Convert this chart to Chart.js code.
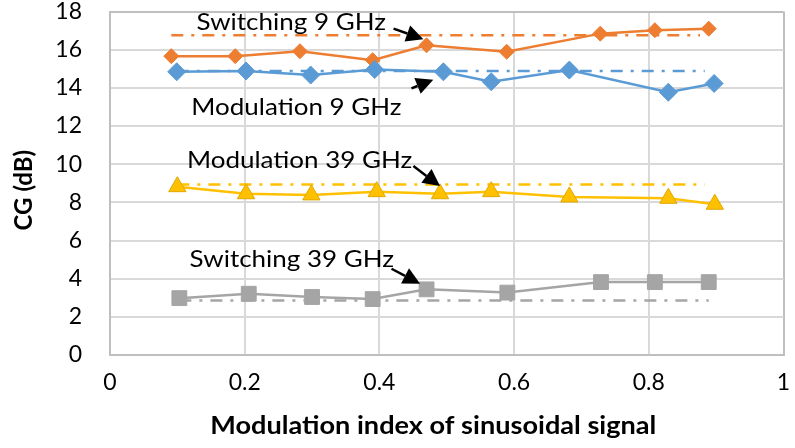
<!DOCTYPE html>
<html>
<head>
<meta charset="utf-8">
<title>CG vs modulation index</title>
<script src="https://cdn.jsdelivr.net/npm/chart.js@4/dist/chart.umd.min.js"></script>
<style>
  html, body { margin: 0; padding: 0; background: #ffffff; }
  #wrap { width: 795px; height: 448px; }
</style>
</head>
<body>
<div id="wrap"><canvas id="cg" width="795" height="448"></canvas></div>
<script>
// Axis ticks
const xTicks = [0, 0.2, 0.4, 0.6, 0.8, 1];
const yTicks = [0, 2, 4, 6, 8, 10, 12, 14, 16, 18];
const xTitle = 'Modulation index of sinusoidal signal';
const yTitle = 'CG (dB)';

// Switching, 9 GHz
const sw9X  = [0.091, 0.186, 0.282, 0.390, 0.470, 0.589, 0.728, 0.809, 0.889];
const sw9CG = [15.66, 15.66, 15.92, 15.45, 16.23, 15.89, 16.84, 17.02, 17.10];
// Modulation, 9 GHz
const mod9X  = [0.099, 0.202, 0.298, 0.393, 0.495, 0.566, 0.682, 0.829, 0.897];
const mod9CG = [14.84, 14.88, 14.67, 14.96, 14.84, 14.32, 14.93, 13.77, 14.23];
// Modulation, 39 GHz
const mod39X  = [0.100, 0.202, 0.299, 0.396, 0.490, 0.566, 0.682, 0.829, 0.898];
const mod39CG = [8.82, 8.45, 8.39, 8.56, 8.45, 8.56, 8.28, 8.21, 7.90];
// Switching, 39 GHz
const sw39X  = [0.103, 0.206, 0.300, 0.390, 0.470, 0.590, 0.729, 0.809, 0.889];
const sw39CG = [2.98, 3.21, 3.04, 2.93, 3.44, 3.27, 3.82, 3.82, 3.82];

// Constant reference levels (dash-dot lines)
const sw9RefX  = [0.091, 0.876];  const sw9Ref  = [16.75, 16.75];
const mod9RefX = [0.099, 0.883];  const mod9Ref = [14.88, 14.88];
const mod39RefX = [0.100, 0.883]; const mod39Ref = [8.94, 8.94];
const sw39RefX = [0.103, 0.889];  const sw39Ref = [2.86, 2.86];

// Callout labels: text, text anchor (left, baseline), arrow tail and head
const callouts = [
  { text: 'Switching 9 GHz',   at: [0.1285, 17.02], from: [0.421, 17.10], to: [0.4653, 16.55] },
  { text: 'Modulation 9 GHz',  at: [0.1207, 12.59], from: [0.4476, 13.97], to: [0.480, 14.43] },
  { text: 'Modulation 39 GHz', at: [0.1142, 9.81],  from: [0.4505, 9.90],  to: [0.490, 8.85] },
  { text: 'Switching 39 GHz',  at: [0.1182, 4.60],  from: [0.418, 4.52],   to: [0.4604, 3.73] }
];

const FONT = 'Lato, "Open Sans", sans-serif';
const WIDEN = 1.13;   // horizontal stretch applied to free-standing text
const ORANGE = '#ED7D31', BLUE = '#5B9BD5', GOLD = '#FFC000', GREY = '#A5A5A5';

const pts = (xs, ys) => xs.map((x, i) => ({ x: x, y: ys[i] }));

function series(xs, ys, color, style, radius, edge) {
  return {
    data: pts(xs, ys),
    borderColor: color,
    borderWidth: 2.5,
    pointStyle: style,
    pointRadius: radius,
    pointHoverRadius: radius,
    pointBackgroundColor: color,
    pointBorderColor: edge || color,
    pointBorderWidth: 1,
    tension: 0,
    fill: false
  };
}
function refLine(xs, ys, color) {
  return {
    data: pts(xs, ys),
    borderColor: color,
    borderWidth: 2.5,
    borderDash: [12, 8, 3, 8],
    pointRadius: 0,
    tension: 0,
    fill: false
  };
}

function wideText(ctx, text, x, y, align) {
  ctx.save();
  ctx.translate(x, y);
  ctx.scale(WIDEN, 1);
  ctx.textAlign = align;
  ctx.fillText(text, 0, 0);
  ctx.restore();
}

const calloutPlugin = {
  id: 'callouts',
  afterDatasetsDraw(chart) {
    const { ctx, scales, chartArea } = chart;
    const px = v => scales.x.getPixelForValue(v);
    const py = v => scales.y.getPixelForValue(v);
    ctx.save();
    ctx.fillStyle = '#000';
    ctx.strokeStyle = '#000';
    ctx.textBaseline = 'alphabetic';
    ctx.font = '23px ' + FONT;
    callouts.forEach(c => {
      wideText(ctx, c.text, px(c.at[0]), py(c.at[1]), 'left');
      const x0 = px(c.from[0]), y0 = py(c.from[1]);
      const x1 = px(c.to[0]),   y1 = py(c.to[1]);
      const ang = Math.atan2(y1 - y0, x1 - x0);
      const hl = 17, hw = 8.5;
      const bx = x1 - hl * Math.cos(ang), by = y1 - hl * Math.sin(ang);
      ctx.lineWidth = 2.5;
      ctx.beginPath();
      ctx.moveTo(x0, y0);
      ctx.lineTo(bx, by);
      ctx.stroke();
      ctx.beginPath();
      ctx.moveTo(x1, y1);
      ctx.lineTo(bx + hw * Math.sin(ang), by - hw * Math.cos(ang));
      ctx.lineTo(bx - hw * Math.sin(ang), by + hw * Math.cos(ang));
      ctx.closePath();
      ctx.fill();
    });

    // Axis titles
    ctx.font = 'bold 24px ' + FONT;
    ctx.textBaseline = 'middle';
    wideText(ctx, xTitle, chartArea.left + chartArea.width * 0.48, 426, 'center');
    ctx.save();
    ctx.translate(24, chartArea.top + chartArea.height * 0.52);
    ctx.rotate(-Math.PI / 2);
    ctx.textAlign = 'center';
    ctx.fillText(yTitle, 0, 0);
    ctx.restore();
    ctx.restore();
  }
};

const gridColor = (last) => (ctx) => ctx.index === last ? '#BFBFBF' : '#D9D9D9';

new Chart(document.getElementById('cg'), {
  type: 'line',
  data: {
    datasets: [
      series(mod9X, mod9CG, BLUE, 'rectRot', 9),
      series(sw9X, sw9CG, ORANGE, 'rectRot', 7.5),
      series(mod39X, mod39CG, GOLD, 'triangle', 10, '#E0A800'),
      series(sw39X, sw39CG, GREY, 'rect', 10.5),
      refLine(mod9RefX, mod9Ref, BLUE),
      refLine(sw9RefX, sw9Ref, ORANGE),
      refLine(mod39RefX, mod39Ref, GOLD),
      refLine(sw39RefX, sw39Ref, GREY)
    ]
  },
  options: {
    responsive: false,
    animation: false,
    devicePixelRatio: 1,
    layout: { padding: { left: 0, right: 8, top: 9, bottom: 0 } },
    plugins: { legend: { display: false }, tooltip: { enabled: false } },
    scales: {
      x: {
        type: 'linear',
        min: xTicks[0],
        max: xTicks[xTicks.length - 1],
        afterBuildTicks: s => { s.ticks = xTicks.map(v => ({ value: v })); },
        afterFit: s => { s.height = 93; s.paddingLeft = 0; s.paddingRight = 0; },
        grid: { color: gridColor(xTicks.length - 1), lineWidth: 2, drawTicks: false },
        border: { color: '#BFBFBF', width: 2 },
        ticks: {
          padding: 14,
          color: '#000',
          font: { family: FONT, size: 23 },
          callback: v => String(v),
          maxRotation: 0
        },
        title: { display: false }
      },
      y: {
        type: 'linear',
        min: yTicks[0],
        max: yTicks[yTicks.length - 1],
        afterBuildTicks: s => { s.ticks = yTicks.map(v => ({ value: v })); },
        afterFit: s => { s.width = 110; s.paddingTop = 0; s.paddingBottom = 0; },
        grid: { color: gridColor(yTicks.length - 1), lineWidth: 2, drawTicks: false },
        border: { color: '#BFBFBF', width: 2 },
        ticks: {
          padding: 28,
          color: '#000',
          font: { family: FONT, size: 23 },
          callback: v => String(v)
        },
        title: { display: false }
      }
    }
  },
  plugins: [calloutPlugin]
});
</script>
</body>
</html>
